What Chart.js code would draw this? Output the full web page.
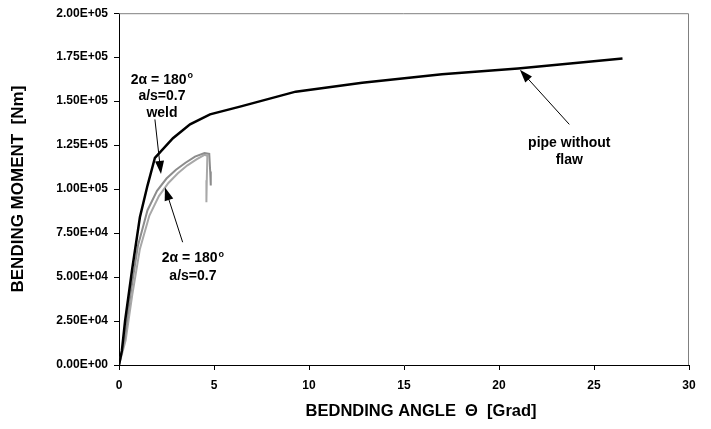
<!DOCTYPE html>
<html>
<head>
<meta charset="utf-8">
<script src="https://cdn.jsdelivr.net/npm/chart.js@4/dist/chart.umd.min.js"></script>
<style>
html,body{margin:0;padding:0;background:#fff;}
#wrap{width:711px;height:429px;position:relative;}
</style>
</head>
<body>
<div id="wrap"><canvas id="c" width="711" height="429"></canvas></div>
<script>
// ---- data (angle in Grad, moment in Nm) ----
const noFlawAngle  = [0, 0.15, 0.32, 0.7, 1.1, 1.5, 1.89, 2.84, 3.74, 4.79, 6.37, 9.3, 12.8, 17, 21, 26.5];
const noFlawMoment = [0, 8000, 25000, 55000, 84000, 102000, 117800, 128900, 136800, 142500, 146900, 155400, 160500, 165300, 168600, 174200];

const weldAngle  = [0, 0.3, 0.6, 1.0, 1.5, 2.0, 2.5, 3.0, 3.5, 4.0, 4.5, 4.75, 4.8, 4.83];
const weldMoment = [0, 15000, 40000, 68000, 88000, 99000, 106000, 111000, 115000, 118500, 120500, 120000, 110000, 102000];

const flawAngle  = [0, 0.35, 0.7, 1.1, 1.6, 2.1, 2.6, 3.1, 3.6, 4.1, 4.5, 4.65, 4.62, 4.6];
const flawMoment = [0, 14000, 40000, 66000, 85000, 96000, 103500, 109000, 113500, 117000, 119500, 119000, 105000, 92500];

const xTicks = [0, 5, 10, 15, 20, 25, 30];
const yTicks = [0, 25000, 50000, 75000, 100000, 125000, 150000, 175000, 200000];

const xTitle = "BEDNDING ANGLE  \u0398  [Grad]";
const yTitle = "BENDING MOMENT  [Nm]";

// annotations (data coordinates)
const labels = [
  {lines: ["2\u03b1 = 180|o", "a/s=0.7", "weld"], x: 2.26, y: [162200, 152600, 143000]},
  {lines: ["2\u03b1 = 180|o", "a/s=0.7"], x: 3.89, y: [60700, 50500]},
  {lines: ["pipe without", "flaw"], x: 23.7, y: [126000, 116400]}
];
const arrows = [
  {from: [1.89, 139600], to: [2.21, 108600]},
  {from: [3.35, 69800], to: [2.42, 100900]},
  {from: [23.7, 136800], to: [21.1, 167800]}
];

function pts(xs, ys){ return xs.map((x,i)=>({x:x, y:ys[i]})); }
function fmtE(v){
  if (v === 0) return "0.00E+00";
  const e = Math.floor(Math.log10(Math.abs(v)));
  const m = v / Math.pow(10, e);
  return m.toFixed(2) + "E" + (e>=0?"+":"-") + String(Math.abs(e)).padStart(2,"0");
}

const FONT = "'Liberation Sans', Arial, sans-serif";
const AF = 14;

const annot = {
  id: 'annot',
  afterDatasetsDraw(chart){
    const ctx = chart.ctx, xs = chart.scales.x, ys = chart.scales.y;
    ctx.save();
    // frame
    const a = chart.chartArea;
    ctx.strokeStyle = '#808080'; ctx.lineWidth = 1;
    ctx.beginPath();
    ctx.moveTo(a.left, a.top + 0.5); ctx.lineTo(a.right - 0.5, a.top + 0.5); ctx.lineTo(a.right - 0.5, a.bottom);
    ctx.stroke();
    // x axis title
    ctx.fillStyle = '#000';
    ctx.font = 'bold 16.5px ' + FONT;
    ctx.textAlign = 'center'; ctx.textBaseline = 'middle';
    ctx.fillText(xTitle, a.left + (a.right - a.left) * 0.53, 411);
    // arrows
    ctx.strokeStyle = '#000'; ctx.fillStyle = '#000'; ctx.lineWidth = 1;
    arrows.forEach(ar => {
      const x1 = xs.getPixelForValue(ar.from[0]), y1 = ys.getPixelForValue(ar.from[1]);
      const x2 = xs.getPixelForValue(ar.to[0]),   y2 = ys.getPixelForValue(ar.to[1]);
      const ang = Math.atan2(y2 - y1, x2 - x1);
      const L = 13, W = 4.5;
      ctx.beginPath(); ctx.moveTo(x1, y1);
      ctx.lineTo(x2 - Math.cos(ang)*L*0.8, y2 - Math.sin(ang)*L*0.8); ctx.stroke();
      ctx.beginPath();
      ctx.moveTo(x2, y2);
      ctx.lineTo(x2 - Math.cos(ang)*L + Math.sin(ang)*W, y2 - Math.sin(ang)*L - Math.cos(ang)*W);
      ctx.lineTo(x2 - Math.cos(ang)*L - Math.sin(ang)*W, y2 - Math.sin(ang)*L + Math.cos(ang)*W);
      ctx.closePath(); ctx.fill();
    });
    // labels
    ctx.textBaseline = 'middle';
    labels.forEach(lb => {
      const cx = xs.getPixelForValue(lb.x);
      lb.lines.forEach((t, i) => {
        const cy = ys.getPixelForValue(lb.y[i]);
        const parts = t.split('|');
        ctx.font = 'bold ' + AF + 'px ' + FONT;
        const w0 = ctx.measureText(parts[0]).width;
        let w1 = 0;
        if (parts[1]) { ctx.font = 'bold 9px ' + FONT; w1 = ctx.measureText(parts[1]).width + 1; }
        const sx = cx - (w0 + w1) / 2;
        ctx.textAlign = 'left';
        ctx.font = 'bold ' + AF + 'px ' + FONT;
        ctx.fillText(parts[0], sx, cy);
        if (parts[1]) { ctx.font = 'bold 9px ' + FONT; ctx.fillText(parts[1], sx + w0 + 1, cy - 4); }
      });
    });
    ctx.restore();
  }
};

new Chart(document.getElementById('c'), {
  type: 'scatter',
  data: {
    datasets: [
      {data: pts(noFlawAngle, noFlawMoment), showLine: true, borderColor: '#000', borderWidth: 2.5, pointRadius: 0, tension: 0},
      {data: pts(weldAngle, weldMoment), showLine: true, borderColor: '#8c8c8c', borderWidth: 2, pointRadius: 0, tension: 0},
      {data: pts(flawAngle, flawMoment), showLine: true, borderColor: '#a8a8a8', borderWidth: 2, pointRadius: 0, tension: 0}
    ]
  },
  options: {
    responsive: false, animation: false, devicePixelRatio: 1,
    layout: {padding: {left: 0, right: 22, top: 11, bottom: 0}},
    plugins: {legend: {display: false}, tooltip: {enabled: false}},
    scales: {
      x: {
        type: 'linear', min: 0, max: 30,
        afterBuildTicks: s => { s.ticks = xTicks.map(v => ({value: v})); },
        afterFit: s => { s.height = 64; },
        ticks: {color: '#000', font: {family: FONT, size: 12, weight: 'bold'}, padding: 8, callback: v => String(v)},
        grid: {drawOnChartArea: false, tickLength: 5, color: '#000'},
        border: {color: '#000', width: 1},
        title: {display: false, text: xTitle}
      },
      y: {
        type: 'linear', min: 0, max: 200000,
        afterBuildTicks: s => { s.ticks = yTicks.map(v => ({value: v})); },
        afterFit: s => { s.width = 119; },
        ticks: {color: '#000', font: {family: FONT, size: 12, weight: 'bold'}, padding: 6, callback: v => fmtE(v)},
        grid: {drawOnChartArea: false, tickLength: 5, color: '#000'},
        border: {color: '#000', width: 1},
        title: {display: true, text: yTitle, color: '#000', font: {family: FONT, size: 17, weight: 'bold'}, padding: {top: 8, bottom: 4}}
      }
    }
  },
  plugins: [annot]
});
</script>
</body>
</html>
